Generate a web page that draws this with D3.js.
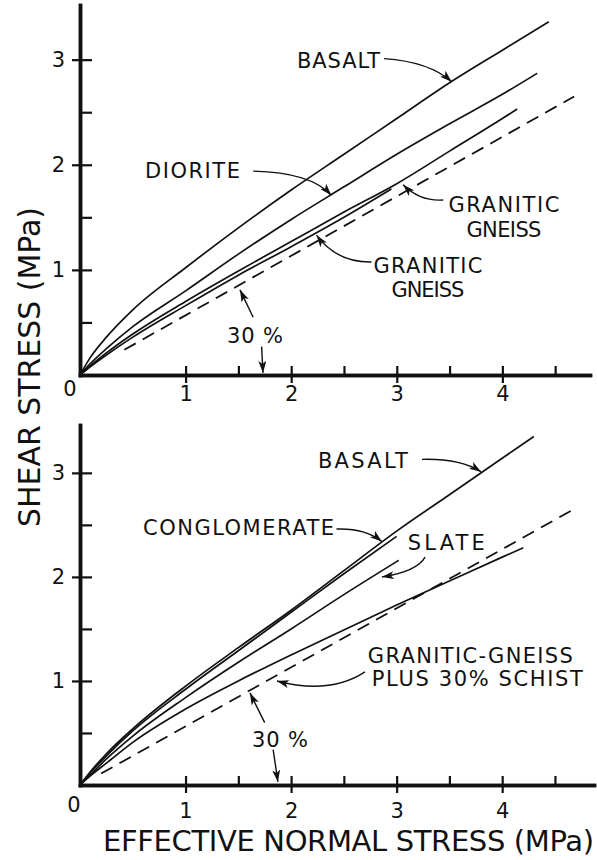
<!DOCTYPE html>
<html>
<head>
<meta charset="utf-8">
<script src="https://cdn.jsdelivr.net/npm/d3@7"></script>
<style>
  body { margin: 0; background: #fff; }
  svg { display: block; }
  text { font-family: "DejaVu Sans", sans-serif; fill: #111; }
</style>
</head>
<body>
<svg id="chart" width="597" height="860"></svg>
<script>
// values, stress in MPa
const xTicks = [1, 2, 3, 4];
const xMinorTicks = [1.5, 2.5, 3.5, 4.5];
const yTicks = [1, 2, 3];
const yMinorTicks = [0.5, 1.5, 2.5];

// upper panel
const topBasalt = [[0, 0], [0.1, 0.17], [0.25, 0.36], [0.5, 0.62], [1, 1.02], [1.5, 1.4], [2, 1.76], [2.5, 2.1], [3, 2.44], [3.5, 2.78], [4, 3.09], [4.44, 3.36]];
const topDiorite = [[0, 0], [0.1, 0.11], [0.25, 0.25], [0.5, 0.46], [1, 0.8], [1.5, 1.15], [2, 1.48], [2.5, 1.79], [3, 2.1], [3.5, 2.39], [4, 2.67], [4.33, 2.87]];
const topGneissA = [[0, 0], [0.1, 0.09], [0.25, 0.21], [0.5, 0.39], [1, 0.7], [1.5, 0.99], [2, 1.27], [2.5, 1.55], [3, 1.82], [3.5, 2.13], [4, 2.44], [4.14, 2.53]];
const topGneissB = [[0, 0], [0.1, 0.08], [0.25, 0.19], [0.5, 0.36], [1, 0.66], [1.5, 0.95], [2, 1.22], [2.5, 1.5], [2.95, 1.77]];
const topFriction30 = [[0.42, 0.24], [4.68, 2.65]];

// lower panel
const botBasalt = [[0, 0], [0.1, 0.13], [0.25, 0.3], [0.5, 0.54], [1, 0.95], [1.5, 1.32], [2, 1.68], [2.5, 2.06], [3, 2.44], [3.5, 2.79], [4, 3.14], [4.3, 3.35]];
const botConglomerate = [[0, 0], [0.1, 0.12], [0.25, 0.28], [0.5, 0.52], [1, 0.92], [1.5, 1.29], [2, 1.66], [2.5, 2.03], [3, 2.39]];
const botSlate = [[0, 0], [0.1, 0.1], [0.25, 0.25], [0.5, 0.47], [1, 0.84], [1.5, 1.18], [2, 1.5], [2.5, 1.83], [3.02, 2.16]];
const botGneissSchist = [[0, 0], [0.1, 0.09], [0.25, 0.21], [0.5, 0.41], [1, 0.73], [1.5, 1.0], [2, 1.25], [2.5, 1.49], [3, 1.73], [3.5, 1.96], [4, 2.19], [4.2, 2.28]];
const botFriction30 = [[0.2, 0.11], [4.66, 2.64]];

const svg = d3.select("#chart");

svg.append("defs").append("marker")
  .attr("id", "arrow")
  .attr("viewBox", "0 0 12 8")
  .attr("refX", 12)
  .attr("refY", 4)
  .attr("markerWidth", 12)
  .attr("markerHeight", 8)
  .attr("markerUnits", "userSpaceOnUse")
  .attr("orient", "auto")
  .append("path")
  .attr("d", "M0,0 L12,4 L0,8 L3,4 Z")
  .attr("fill", "#111");

const xTop = d3.scaleLinear().domain([0, 4.83]).range([80, 590]);
const yTop = d3.scaleLinear().domain([0, 3.52]).range([375, 5]);
const xBot = d3.scaleLinear().domain([0, 4.87]).range([80, 594]);
const yBot = d3.scaleLinear().domain([0, 3.46]).range([785, 425]);

function drawAxes(x, y, labelPad, zeroDx, zeroDy) {
  const g = svg.append("g");

  g.append("g")
    .attr("transform", `translate(0,${y(0)})`)
    .call(d3.axisBottom(x).tickValues(xTicks).tickSize(8).tickSizeOuter(0).tickPadding(labelPad).tickFormat(d3.format("d")));
  g.append("g")
    .attr("transform", `translate(0,${y(0)})`)
    .call(d3.axisTop(x).tickValues(xTicks.concat(xMinorTicks)).tickSize(9).tickSizeOuter(0).tickFormat(""));

  g.append("g")
    .attr("transform", `translate(${x(0)},0)`)
    .call(d3.axisLeft(y).tickValues(yTicks).tickSize(8).tickSizeOuter(0).tickPadding(7).tickFormat(d3.format("d")));
  g.append("g")
    .attr("transform", `translate(${x(0)},0)`)
    .call(d3.axisRight(y).tickValues(yTicks.concat(yMinorTicks)).tickSize(12).tickSizeOuter(0).tickFormat(""));

  g.selectAll(".domain").attr("stroke", "#111").attr("stroke-width", 3.5).attr("stroke-linecap", "square");
  g.selectAll(".tick line").attr("stroke", "#111").attr("stroke-width", 2.2);
  g.selectAll(".tick text").style("font-size", "21px");

  g.append("text")
    .attr("x", x(0) + zeroDx)
    .attr("y", y(0) + zeroDy)
    .attr("text-anchor", "middle")
    .style("font-size", "21px")
    .text("0");
}

function drawCurves(x, y, solids, dashed) {
  const line = d3.line()
    .x((d) => x(d[0]))
    .y((d) => y(d[1]))
    .curve(d3.curveMonotoneX);

  svg.append("g")
    .selectAll("path")
    .data(solids)
    .enter()
    .append("path")
    .attr("d", line)
    .attr("fill", "none")
    .attr("stroke", "#111")
    .attr("stroke-width", 1.7);

  svg.append("path")
    .datum(dashed)
    .attr("d", line)
    .attr("fill", "none")
    .attr("stroke", "#111")
    .attr("stroke-width", 1.8)
    .attr("stroke-dasharray", "13,8");
}

function drawNotes(x, y, labels, leaders) {
  const g = svg.append("g");

  g.selectAll("text")
    .data(labels)
    .enter()
    .append("text")
    .attr("x", (d) => x(d.at[0]))
    .attr("y", (d) => y(d.at[1]))
    .attr("text-anchor", (d) => d.anchor || "start")
    .attr("textLength", (d) => d.w)
    .attr("lengthAdjust", "spacing")
    .style("font-size", "21px")
    .text((d) => d.text);

  g.selectAll("path")
    .data(leaders)
    .enter()
    .append("path")
    .attr("d", (d) => {
      const p = d.ctrl
        ? `Q${x(d.ctrl[0])},${y(d.ctrl[1])} `
        : "L";
      return `M${x(d.from[0])},${y(d.from[1])} ${p}${x(d.to[0])},${y(d.to[1])}`;
    })
    .attr("fill", "none")
    .attr("stroke", "#111")
    .attr("stroke-width", 1.4)
    .attr("marker-end", "url(#arrow)");
}

// upper panel
drawCurves(xTop, yTop, [topBasalt, topDiorite, topGneissA, topGneissB], topFriction30);
drawAxes(xTop, yTop, 3, -10, 21);
drawNotes(xTop, yTop,
  [
    { text: "BASALT", at: [2.055, 2.92], w: 83 },
    { text: "DIORITE", at: [0.615, 1.875], w: 95 },
    { text: "GRANITIC", at: [4.015, 1.55], anchor: "middle", w: 111 },
    { text: "GNEISS", at: [4.015, 1.313], anchor: "middle", w: 75 },
    { text: "GRANITIC", at: [3.295, 0.97], anchor: "middle", w: 109 },
    { text: "GNEISS", at: [3.295, 0.742], anchor: "middle", w: 73 },
    { text: "30 %", at: [1.657, 0.304], anchor: "middle", w: 56 },
  ],
  [
    { from: [2.88, 3.01], ctrl: [3.31, 2.98], to: [3.52, 2.79] },
    { from: [1.64, 1.94], ctrl: [2.18, 1.93], to: [2.38, 1.71] },
    { from: [3.44, 1.665], ctrl: [3.22, 1.65], to: [3.06, 1.81] },
    { from: [2.76, 1.075], ctrl: [2.43, 1.07], to: [2.24, 1.33] },
    { from: [1.64, 0.55], to: [1.515, 0.81] },
    { from: [1.72, 0.27], to: [1.733, 0.02] },
  ]);

// lower panel
drawCurves(xBot, yBot, [botBasalt, botConglomerate, botSlate, botGneissSchist], botFriction30);
drawAxes(xBot, yBot, 10, -6, 27);
drawNotes(xBot, yBot,
  [
    { text: "BASALT", at: [2.254, 3.05], w: 90 },
    { text: "CONGLOMERATE", at: [0.597, 2.4], w: 191 },
    { text: "SLATE", at: [3.106, 2.26], w: 77 },
    { text: "GRANITIC-GNEISS", at: [2.727, 1.173], w: 205 },
    { text: "PLUS 30% SCHIST", at: [2.765, 0.952], w: 211 },
    { text: "30 %", at: [1.894, 0.365], anchor: "middle", w: 56 },
  ],
  [
    { from: [3.24, 3.13], ctrl: [3.6, 3.14], to: [3.8, 3.01] },
    { from: [2.43, 2.46], ctrl: [2.7, 2.47], to: [2.86, 2.34] },
    { from: [3.27, 2.19], ctrl: [3.19, 2.05], to: [2.86, 2.0] },
    { from: [2.7, 1.087], ctrl: [2.367, 0.865], to: [1.866, 1.0] },
    { from: [1.75, 0.6], to: [1.61, 0.885] },
    { from: [1.83, 0.34], to: [1.875, 0.03] },
  ]);

// axis titles
svg.append("text")
  .attr("transform", "translate(40,367) rotate(-90)")
  .attr("text-anchor", "middle")
  .attr("textLength", 320)
  .attr("lengthAdjust", "spacing")
  .style("font-size", "30px")
  .text("SHEAR STRESS (MPa)");

svg.append("text")
  .attr("x", 103)
  .attr("y", 851)
  .attr("textLength", 491)
  .attr("lengthAdjust", "spacing")
  .style("font-size", "29px")
  .text("EFFECTIVE NORMAL STRESS (MPa)");
</script>
</body>
</html>
